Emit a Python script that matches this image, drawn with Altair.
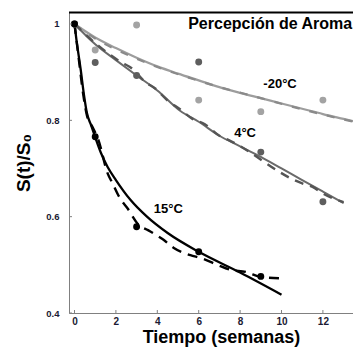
import altair as alt
import pandas as pd

FONT = "Liberation Sans"

# ---- fitted curves ----
t_m20_solid = [0, 1, 2, 3, 4, 5, 6, 7, 8, 9, 10, 11, 12, 13, 14]
s_m20_solid = [1, 0.972, 0.95, 0.93, 0.912, 0.897, 0.883, 0.869, 0.857, 0.846, 0.835, 0.824, 0.813, 0.803, 0.793]
t_m20_dash = [0, 1, 3, 6, 9, 12, 14]
s_m20_dash = [1, 0.970, 0.928, 0.882, 0.846, 0.812, 0.792]

t_4_solid = [0, 1, 2, 3, 4, 5.1, 6, 7, 8, 9, 10, 11, 12, 13]
s_4_solid = [1, 0.958, 0.925, 0.893, 0.862, 0.82, 0.797, 0.768, 0.746, 0.724, 0.70, 0.676, 0.652, 0.628]
t_4_dash = [0, 1.15, 2.2, 2.8, 3.4, 3.9, 4.5, 5.1, 5.7, 6.3, 7, 7.5, 11, 11.5, 12, 13]
s_4_dash = [1, 0.955, 0.922, 0.907, 0.88, 0.866, 0.841, 0.823, 0.803, 0.792, 0.768, 0.758, 0.669, 0.662, 0.648, 0.63]

t_15_solid = [0, 0.1, 0.2, 0.3, 0.45, 0.6, 0.8, 1, 1.3, 1.6, 2, 2.7, 3.5, 4.5, 6, 8, 10]
s_15_solid = [1, 0.965, 0.935, 0.905, 0.855, 0.815, 0.79, 0.765, 0.73, 0.703, 0.676, 0.635, 0.60, 0.566, 0.527, 0.484, 0.438]
t_15_dash = [0, 0.2, 0.4, 0.6, 0.87, 1.15, 1.6, 1.83, 2.2, 2.55, 3.1, 3.55, 4.3, 4.8, 5.6, 6.1, 6.9, 7.5, 8.3, 9, 10]
s_15_dash = [1, 0.93, 0.86, 0.81, 0.786, 0.76, 0.69, 0.67, 0.638, 0.618, 0.583, 0.572, 0.552, 0.535, 0.52, 0.514, 0.5, 0.49, 0.485, 0.475, 0.472]

# ---- measured points ----
t_m20_pts = [0, 1, 3, 6, 9, 12]
s_m20_pts = [1, 0.946, 0.998, 0.842, 0.818, 0.842]
t_4_pts = [0, 1, 3, 6, 9, 12]
s_4_pts = [1, 0.92, 0.893, 0.921, 0.734, 0.631]
t_15_pts = [0, 1, 3, 6, 9]
s_15_pts = [1, 0.766, 0.579, 0.527, 0.476]

# ---- annotations ----
lab_text = ["-20°C", "4°C", "15°C"]
lab_t = [9.93, 8.24, 4.53]
lab_s = [0.867, 0.765, 0.608]
title_text = "Percepción de Aroma"

x_ticks = [0, 2, 4, 6, 8, 10, 12, 14]
y_ticks = [0.4, 0.6, 0.8, 1.0]

C_M20 = "#9d9d9d"
C_4 = "#6a6a6a"
C_15 = "#000000"

W, H = 284, 301
XMIN = -0.266
XMAX = XMIN + W / 20.7
YMAX = 1.0249
xs = alt.Scale(domain=[XMIN, XMAX], nice=False, zero=False)
ys = alt.Scale(domain=[0.4, YMAX], nice=False, zero=False)

X = alt.X("t:Q", scale=xs, axis=alt.Axis(
    values=x_ticks, format="d", ticks=False, grid=False,
    domainColor="#808080", labelFont=FONT, labelFontWeight="bold",
    labelFontSize=10, labelColor="#1a1a33", labelPadding=3,
    title="Tiempo (semanas)", titleFont=FONT, titleFontSize=18,
    titleFontWeight="bold", titleColor="#000",
    titleX=152, titleY=29, titleAlign="center", titleBaseline="alphabetic",
    labelOverlap=False))
Y = alt.Y("s:Q", scale=ys, axis=alt.Axis(
    values=y_ticks, format="~g", ticks=False, grid=False,
    domainColor="#808080", labelFont=FONT, labelFontWeight="bold",
    labelFontSize=9.5, labelColor="#1a1a33", labelPadding=10,
    title="S(t)/S₀", titleFont=FONT, titleFontSize=19,
    titleFontWeight="bold", titleColor="#000", titlePadding=12))


def df(t, s):
    return pd.DataFrame({"t": t, "s": s})


def line(t, s, color, width, dash=None):
    kw = dict(color=color, strokeWidth=width, interpolate="monotone", clip=True)
    if dash:
        kw["strokeDash"] = dash
    return alt.Chart(df(t, s)).mark_line(**kw).encode(x=X, y=Y)


def pts(t, s, color):
    return alt.Chart(df(t, s)).mark_circle(color=color, size=48, opacity=1, clip=True).encode(x=X, y=Y)


layers = [
    line(t_m20_solid, s_m20_solid, C_M20, 2.2),
    line(t_m20_dash, s_m20_dash, "#8a8a8a", 2.2, [8, 10]),
    line(t_4_solid, s_4_solid, C_4, 2),
    line(t_4_dash, s_4_dash, "#555555", 2.4, [9, 7]),
    line(t_15_solid, s_15_solid, C_15, 2.3),
    line(t_15_dash, s_15_dash, C_15, 2.4, [10, 7]),
    pts(t_m20_pts, s_m20_pts, "#a3a3a3"),
    pts(t_4_pts, s_4_pts, "#5e5e5e"),
    pts(t_15_pts, s_15_pts, "#000000"),
]

labels = alt.Chart(pd.DataFrame({"t": lab_t, "s": lab_s, "txt": lab_text})).mark_text(
    font=FONT, fontWeight="bold", fontSize=13, color="#000", align="center", baseline="alphabetic"
).encode(x=X, y=Y, text="txt:N")

title = alt.Chart(pd.DataFrame({"t": [13.41], "s": [0.9896], "txt": [title_text]})).mark_text(
    font=FONT, fontWeight="bold", fontSize=16, color="#000", align="right", baseline="alphabetic"
).encode(x=X, y=Y, text="txt:N")

xt = alt.Chart(pd.DataFrame({"t": x_ticks})).mark_rule(color="#808080", strokeWidth=1, clip=True).encode(
    x=alt.X("t:Q", scale=xs), y=alt.value(H), y2=alt.value(H - 3))
yt = alt.Chart(pd.DataFrame({"s": y_ticks})).mark_rule(color="#808080", strokeWidth=1).encode(
    y=alt.Y("s:Q", scale=ys), x=alt.value(0), x2=alt.value(3))

# top frame line of the plot box (as a thin filled rect)
top_frame = alt.Chart(pd.DataFrame({"k": [0]})).mark_rect(color="#000000").encode(
    y=alt.value(-0.5), y2=alt.value(1.5), x=alt.value(0), x2=alt.value(W))

chart = alt.layer(*layers, labels, title, xt, yt, top_frame).properties(
    width=W, height=H,
    autosize=alt.AutoSizeParams(type="none"),
    padding={"left": 61, "top": 4, "right": 0, "bottom": 34},
).configure_view(stroke=None).configure(background="white")

chart.save("out.html", embed_options={"renderer": "svg", "actions": False})
